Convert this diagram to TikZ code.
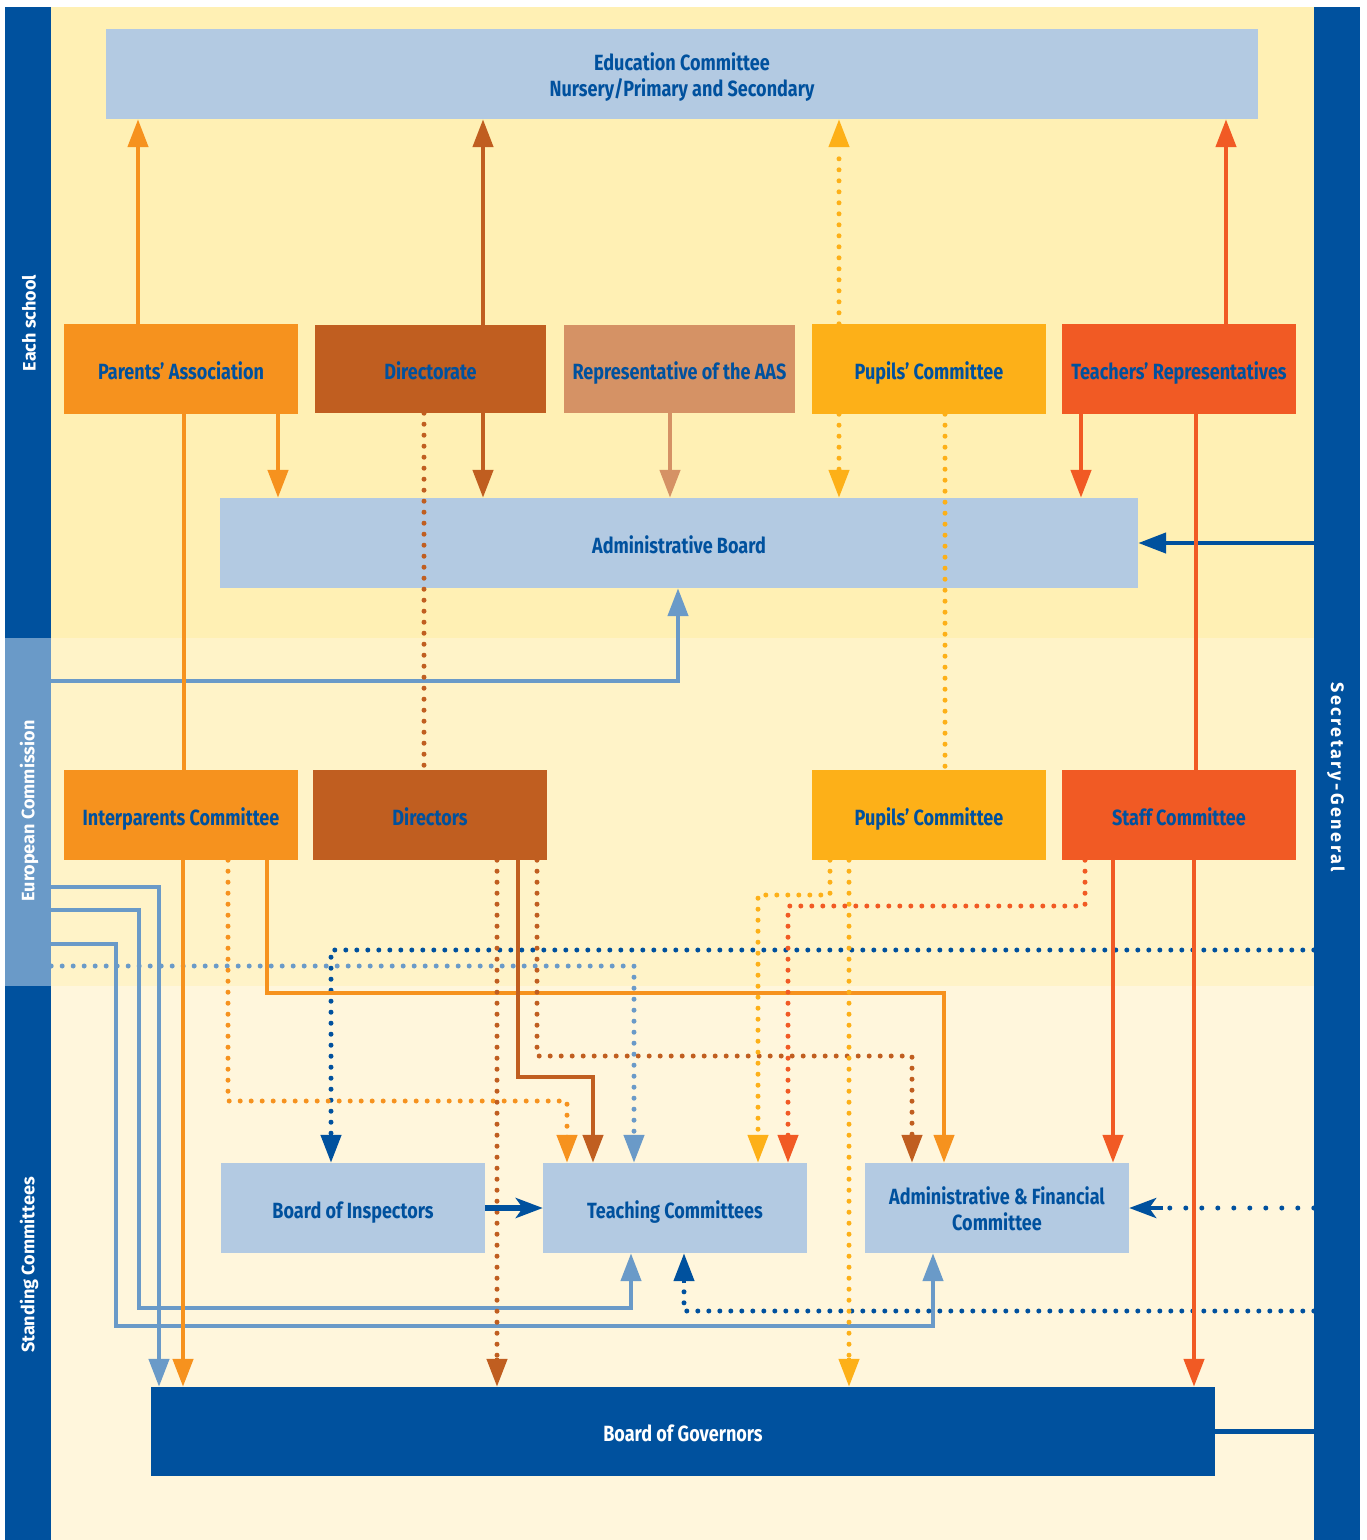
\documentclass[tikz,border=0pt]{standalone}
\usepackage{fontspec}
\setmainfont{Fira Sans}
\newfontfamily\boxfont[FakeStretch=0.82]{Fira Sans}
\newfontfamily\sgfont[LetterSpace=14]{Fira Sans}
\usetikzlibrary{arrows.meta}
\definecolor{dblue}{HTML}{00519E}
\definecolor{ecblue}{HTML}{6A9AC8}
\definecolor{lblue}{HTML}{B3CAE2}
\definecolor{cOr}{HTML}{F6921E}
\definecolor{cBr}{HTML}{C05E20}
\definecolor{cTan}{HTML}{D59265}
\definecolor{cYe}{HTML}{FDB018}
\definecolor{cRe}{HTML}{F15A24}
\definecolor{bgA}{HTML}{FFF0B4}
\definecolor{bgB}{HTML}{FFF3C8}
\definecolor{bgC}{HTML}{FFF6DC}
\begin{document}
\begin{tikzpicture}[x=1pt,y=-1pt,
  box/.style={rectangle, inner sep=0pt, align=center, text=dblue,
    text height=20pt, text depth=0pt,
    font=\boxfont\bfseries\fontsize{22}{26}\selectfont},
  twoline/.style={text height=45pt, text depth=0pt},
  bar/.style={rectangle, inner sep=0pt, draw=none},
  sidelabel/.style={text=white, font=\bfseries\fontsize{18}{20}\selectfont},
  conn/.style={line width=4.5pt},
  dots/.style={line width=5pt, line cap=round, dash pattern=on 0pt off 11pt},
  sparsedots/.style={line width=5pt, line cap=round, dash pattern=on 0pt off 16pt},
  tri/.style={-{Triangle[length=28pt,width=20pt]}},
  stl/.style={-{Stealth[length=27pt,width=20pt,inset=7pt]}}
]
\useasboundingbox (0,0) rectangle (1367,1540);
\fill[white] (0,0) rectangle (1367,1540);
% background bands
\fill[bgA] (51,7) rectangle (1314,638);
\fill[bgB] (51,638) rectangle (1314,986);
\fill[bgC] (51,986) rectangle (1314,1540);
% side bars
\node[bar, fill=dblue, minimum width=46.5pt, minimum height=631pt] (school) at (27.75,322.5) {};
\node[bar, fill=ecblue, minimum width=46.5pt, minimum height=348pt] (ec) at (27.75,812) {};
\node[bar, fill=dblue, minimum width=46.5pt, minimum height=554pt] (stand) at (27.75,1263) {};
\node[bar, fill=dblue, minimum width=46pt, minimum height=1533pt] (sg) at (1337,773.5) {};
\node[sidelabel, rotate=90] (lschool) at (29,323) {Each school};
\node[sidelabel, rotate=90] (lec) at (29,811) {European Commission};
\node[sidelabel, rotate=90] (lstand) at (29,1265) {Standing Committees};
\node[sidelabel, rotate=-90, font=\sgfont\bfseries\fontsize{18}{20}\selectfont] (lsg) at (1336,777) {Secretary-General};

% boxes
\node[box, twoline, fill=lblue, minimum width=1152pt, minimum height=90pt] (edu) at (682,74) {Education Committee\\Nursery/Primary and Secondary};
\node[box, fill=cOr, minimum width=234pt, minimum height=90pt] (pa) at (181,369) {Parents’ Association};
\node[box, fill=cBr, minimum width=231pt, minimum height=88pt] (dir) at (430.5,369) {Directorate};
\node[box, fill=cTan, minimum width=231pt, minimum height=88pt] (aas) at (679.5,369) {Representative of the AAS};
\node[box, fill=cYe, minimum width=234pt, minimum height=90pt] (pc1) at (929,369) {Pupils’ Committee};
\node[box, fill=cRe, minimum width=234pt, minimum height=90pt] (tr) at (1179,369) {Teachers’ Representatives};
\node[box, fill=lblue, minimum width=918pt, minimum height=90pt] (ab) at (679,543) {Administrative Board};
\node[box, fill=cOr, minimum width=234pt, minimum height=90pt] (ipc) at (181,815) {Interparents Committee};
\node[box, fill=cBr, minimum width=234pt, minimum height=90pt] (drs) at (430,815) {Directors};
\node[box, fill=cYe, minimum width=234pt, minimum height=90pt] (pc2) at (929,815) {Pupils’ Committee};
\node[box, fill=cRe, minimum width=234pt, minimum height=90pt] (sc) at (1179,815) {Staff Committee};
\node[box, fill=lblue, minimum width=264pt, minimum height=90pt] (boi) at (353,1208) {Board of Inspectors};
\node[box, fill=lblue, minimum width=264pt, minimum height=90pt] (tc) at (675,1208) {Teaching Committees};
\node[box, twoline, fill=lblue, minimum width=264pt, minimum height=90pt] (afc) at (997,1208) {Administrative \& Financial\\Committee};
\node[box, fill=dblue, text=white, minimum width=1064pt, minimum height=89pt] (bog) at (683,1431.5) {Board of Governors};

% European Commission connectors
\draw[conn, ecblue, tri] (ec.east |- 0,681) -| (ab.south -| 678,0);
\draw[conn, ecblue, tri] (ec.east |- 0,887) -| (bog.north -| 159,0);
\draw[conn, ecblue, tri] (ec.east |- 0,910) -| (139,1308) -| (tc.south -| 631,0);
\draw[conn, ecblue, tri] (ec.east |- 0,944) -| (116,1326) -| (afc.south -| 933,0);
\draw[dots, ecblue] (ec.east |- 0,966) -| (634,1140);
\draw[conn, ecblue, tri] (634,1135) -- (tc.north -| 634,0);

% top row to Education Committee
\draw[conn, cOr, tri] (pa.north -| 138,0) -- (edu.south -| 138,0);
\draw[conn, cBr, tri] (dir.north -| 483,0) -- (edu.south -| 483,0);
\draw[dots, cYe] (pc1.north -| 839,0) -- (839,150);
\draw[conn, cYe, tri] (839,146) -- (edu.south -| 839,0);
\draw[conn, cRe, tri] (tr.north -| 1226,0) -- (edu.south -| 1226,0);

% top row to Administrative Board
\draw[conn, cOr, tri] (pa.south -| 278,0) -- (ab.north -| 278,0);
\draw[conn, cBr, tri] (dir.south -| 483,0) -- (ab.north -| 483,0);
\draw[conn, cTan, tri] (aas.south -| 670,0) -- (ab.north -| 670,0);
\draw[dots, cYe] (pc1.south -| 839,0) -- (839,470);
\draw[conn, cYe, tri] (839,472) -- (ab.north -| 839,0);
\draw[conn, cRe, tri] (tr.south -| 1081,0) -- (ab.north -| 1081,0);
\draw[conn, dblue, tri] (sg.west |- ab.east) -- (ab.east);

% links top row to middle row
\draw[conn, cOr] (pa.south -| 184,0) -- (ipc.north -| 184,0);
\draw[dots, cBr] (dir.south -| 424,0) -- (drs.north -| 424,0);
\draw[dots, cYe] (pc1.south -| 945,0) -- (pc2.north -| 945,0);
\draw[conn, cRe] (tr.south -| 1196,0) -- (sc.north -| 1196,0);

% Secretary-General dotted connectors
\draw[dots, dblue] (sg.west |- 0,950) -| (331,1138);
\draw[conn, dblue, tri] (331,1134) -- (boi.north -| 331,0);
\draw[dots, dblue] (sg.west |- 0,1311) -| (684,1285);
\draw[conn, dblue, tri] (684,1283) -- (tc.south -| 684,0);

% Interparents Committee
\draw[conn, cOr, tri] (ipc.south -| 183,0) -- (bog.north -| 183,0);
\draw[dots, cOr] (ipc.south -| 228,0) |- (567,1101) -- (567,1140);
\draw[conn, cOr, tri] (567,1136) -- (tc.north -| 567,0);
\draw[conn, cOr, tri] (ipc.south -| 267,0) |- (944,993) -- (afc.north -| 944,0);

% Directors
\draw[dots, cBr] (drs.south -| 497,0) -- (497,1360);
\draw[conn, cBr, tri] (497,1358) -- (bog.north -| 497,0);
\draw[conn, cBr, tri] (drs.south -| 518,0) |- (593,1077) -- (tc.north -| 593,0);
\draw[dots, cBr] (drs.south -| 537,0) |- (912,1056) -- (912,1140);
\draw[conn, cBr, tri] (912,1136) -- (afc.north -| 912,0);

% Pupils' Committee (middle)
\draw[dots, cYe] (pc2.south -| 830,0) |- (758,895) -- (758,1140);
\draw[conn, cYe, tri] (758,1136) -- (tc.north -| 758,0);
\draw[dots, cYe] (pc2.south -| 849,0) -- (849,1360);
\draw[conn, cYe, tri] (849,1358) -- (bog.north -| 849,0);

% Staff Committee
\draw[dots, cRe] (sc.south -| 1085,0) |- (788,906) -- (788,1140);
\draw[conn, cRe, tri] (788,1136) -- (tc.north -| 788,0);
\draw[conn, cRe, tri] (sc.south -| 1113,0) -- (afc.north -| 1113,0);

% Secretary-General to Administrative & Financial Committee
\draw[sparsedots, dblue] (sg.west |- afc.east) -- (1165,1208);
\draw[conn, dblue, stl] (1163,1208) -- (afc.east);

\draw[conn, cRe, tri] (sc.south -| 1194,0) -- (bog.north -| 1194,0);

% Board of Inspectors to Teaching Committees
\draw[line width=5.5pt, dblue, stl] (boi.east) -- (tc.west);

% Board of Governors to Secretary-General
\draw[line width=5pt, dblue] (bog.east) -- (sg.west |- bog.east);
\end{tikzpicture}
\end{document}
